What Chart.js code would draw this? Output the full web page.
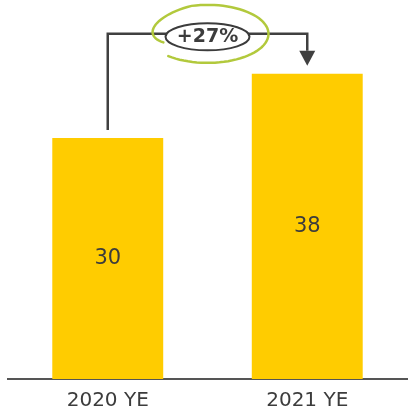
<!DOCTYPE html>
<html>
<head>
<meta charset="utf-8">
<script src="https://cdn.jsdelivr.net/npm/chart.js@4"></script>
<style>
  html, body { margin: 0; padding: 0; background: #fff; }
  #wrap { width: 413px; height: 416px; }
</style>
</head>
<body>
<div id="wrap"><canvas id="canvas"></canvas></div>
<script>
// data
var categories = ['2020 YE', '2021 YE'];
var values = [30, 38];

var textColor = '#3c3c3c';
var fontFamily = '"DejaVu Sans", "Noto Sans", sans-serif';

// percent change between the two bars, drawn in the bubble
var growth = Math.round((values[1] / values[0] - 1) * 100);
var growthLabel = (growth >= 0 ? '+' : '') + growth + '%';

// value text in the middle of each bar
var barLabels = {
    id: 'barLabels',
    afterDatasetsDraw: function(chart) {
        var ctx = chart.ctx;
        var meta = chart.getDatasetMeta(0);
        ctx.save();
        ctx.fillStyle = textColor;
        ctx.font = '21px ' + fontFamily;
        ctx.textAlign = 'center';
        ctx.textBaseline = 'middle';
        meta.data.forEach(function(bar, i) {
            ctx.fillText(String(values[i]), bar.x, (bar.y + bar.base) / 2);
        });
        ctx.restore();
    }
};

// bracket arrow from first bar to second with the growth bubble
var growthArrow = {
    id: 'growthArrow',
    afterDatasetsDraw: function(chart) {
        var ctx = chart.ctx;
        var meta = chart.getDatasetMeta(0);
        var b0 = meta.data[0], b1 = meta.data[1];
        var lineY = b1.y - 40;
        var tipY = b1.y - 8;
        var headH = 15, headW = 8;
        var midX = (b0.x + b1.x) / 2;

        ctx.save();
        ctx.strokeStyle = '#404040';
        ctx.fillStyle = '#404040';
        ctx.lineWidth = 2.5;
        ctx.beginPath();
        ctx.moveTo(b0.x, b0.y - 8);
        ctx.lineTo(b0.x, lineY);
        ctx.lineTo(b1.x, lineY);
        ctx.lineTo(b1.x, tipY - headH);
        ctx.stroke();
        ctx.beginPath();
        ctx.moveTo(b1.x - headW, tipY - headH);
        ctx.lineTo(b1.x + headW, tipY - headH);
        ctx.lineTo(b1.x, tipY);
        ctx.closePath();
        ctx.fill();

        // green hand drawn loop
        var cx = midX, cy = lineY;
        ctx.strokeStyle = '#b2c93c';
        ctx.lineWidth = 2.5;
        ctx.lineCap = 'round';
        ctx.beginPath();
        var start = 130 * Math.PI / 180, end = -212 * Math.PI / 180;
        for (var k = 0; k <= 80; k++) {
            var t = start + (end - start) * k / 80;
            var shrink = k > 55 ? (k - 55) / 25 : 0;
            var rx = 61 - 9 * shrink, ry = 29 - 13 * shrink;
            var px = cx + rx * Math.cos(t);
            var py = cy + ry * Math.sin(t);
            if (k === 0) ctx.moveTo(px, py); else ctx.lineTo(px, py);
        }
        ctx.stroke();

        // bubble
        ctx.beginPath();
        ctx.ellipse(midX, lineY + 3, 42, 13.5, 0, 0, Math.PI * 2);
        ctx.fillStyle = '#fff';
        ctx.fill();
        ctx.strokeStyle = '#3c3c3c';
        ctx.lineWidth = 2;
        ctx.stroke();

        ctx.fillStyle = textColor;
        ctx.font = 'bold 19px ' + fontFamily;
        ctx.textAlign = 'center';
        ctx.textBaseline = 'middle';
        ctx.fillText(growthLabel, midX, lineY + 3);
        ctx.restore();
    }
};

var chart = new Chart(document.getElementById('canvas').getContext('2d'), {
    type: 'bar',
    data: {
        labels: categories,
        datasets: [{
            data: values,
            backgroundColor: '#ffcc00',
            borderWidth: 0,
            categoryPercentage: 1,
            barPercentage: 0.556
        }]
    },
    options: {
        responsive: true,
        maintainAspectRatio: false,
        animation: false,
        layout: { padding: { left: 8, right: 6, top: 0, bottom: 0 } },
        plugins: {
            legend: { display: false },
            tooltip: { enabled: false }
        },
        scales: {
            x: {
                grid: { display: false, drawTicks: false },
                border: { display: true, color: '#555555', width: 2 },
                ticks: {
                    color: textColor,
                    padding: 10,
                    font: { family: fontFamily, size: 20 }
                },
                afterFit: function(scale) { scale.height = 37; }
            },
            y: {
                display: false,
                min: 0,
                max: 47.2
            }
        }
    },
    plugins: [barLabels, growthArrow]
});
</script>
</body>
</html>
